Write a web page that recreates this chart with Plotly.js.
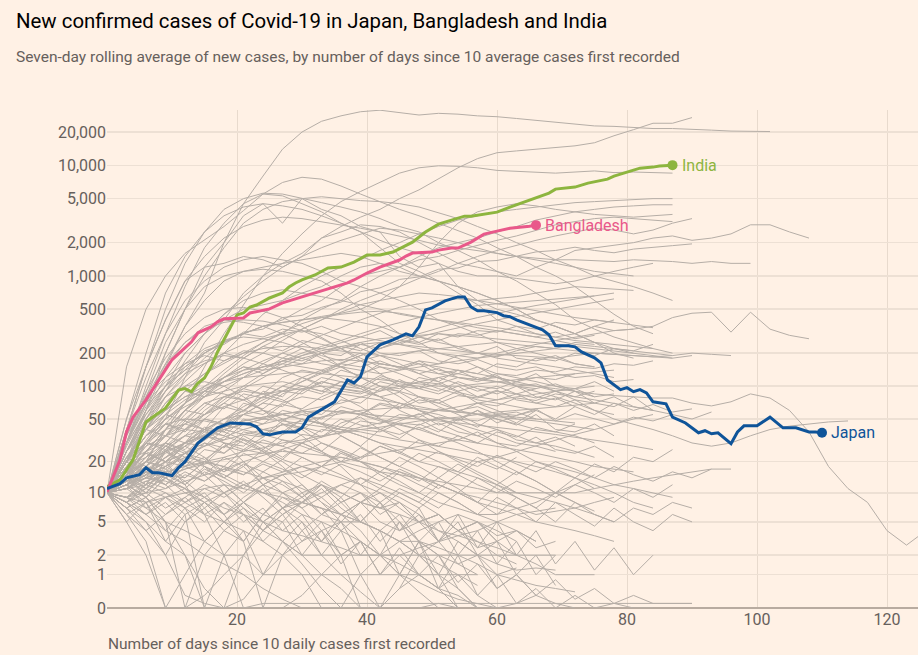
<!DOCTYPE html>
<html><head><meta charset="utf-8">
<script src="https://cdn.plot.ly/plotly-3.0.1.min.js"></script>
<style>html,body{margin:0;padding:0;background:#fff1e5;}#chart{width:918px;height:655px;}</style>
</head><body><div id="chart"></div>
<script>
// ---- highlighted countries (day since 10 avg cases, 7-day avg new cases) ----
const japanDays = [0,2,3,5,6,7,8,10,11,12,14,17,19,22,23,24,25,27,29,30,31,33,35,37,38,39,40,42,44,46,47,48,49,50,52,54,55,56,57,58,60,61,62,63,65,67,68,69,71,72,73,75,76,77,79,80,81,82,83,84,86,87,89,91,92,93,94,96,97,98,100,102,104,106,108,109,110];
const japanCases = [11,12.3,14,15,17.5,15.7,15.7,14.7,17.5,20,30,41.5,46,45,42.4,36.5,35.7,38,38,41.5,52,61,72,114,107,122,185,238,264,299,287,346,493,514,595,646,646,524,485,485,466,437,428,401,361,325,293,233,233,228,205,181,163,114,93,97,89,93,87,72,69,52,46,37.3,39,36.5,37.3,29.5,38,43.3,43.3,52,41.5,41.5,38,38,37.3];

const bangladeshDays = [0,2,3,4,6,8,10,13,14,16,17,18,20,21,22,25,27,30,32,35,37,38,40,42,45,46,47,50,51,53,54,56,58,60,62,65,66];
const bangladeshCases = [10.2,20.8,38,52,75,114,174,253,306,346,384,409,417,417,462,503,570,645,701,794,864,920,1063,1204,1393,1513,1610,1644,1713,1786,1786,2023,2388,2541,2704,2818,2881];

const indiaDays = [0,2,4,5,6,7,9,11,12,13,14,15,16,17,18,19,20,21,22,23,25,27,28,29,30,32,34,36,38,40,42,44,45,47,49,51,53,55,56,58,60,62,65,68,69,72,74,77,78,80,82,84,85,87];
const indiaCases = [11.5,13.4,20.8,32,47,52,63,92,95,89,107,119,150,205,264,340,444,462,524,546,632,701,794,864,920,1020,1180,1204,1336,1547,1547,1646,1753,2023,2494,2943,3198,3474,3474,3622,3775,4188,4849,5609,6096,6355,6902,7499,7981,8670,9430,9634,9839,10040];

// ---- other countries: readings every 3 days from day 0 ----
const otherStep = 3;
const otherCountries = [
 [10,30,70,160,350,700,2000,4500,8000,14000,20000,25000,28000,30500,31500,30000,28500,29500,29000,28000,27500,26500,25500,24500,23500,22700,22500,22000,21500,21500,21000,20800,20400,20400,20200],
 [10,15,30,50,120,250,400,700,1000,1300,1600,2200,2800,3400,4000,5000,6000,7500,9500,11500,13000,13500,14000,14500,15000,16000,18500,21000,24000,24000,27000],
 [10,12,20,40,70,150,300,550,1000,1600,2400,3500,4700,5800,7000,8500,9500,9900,9800,9500,9000,8800,8600,8500,8700,8900,8600,8700,8600,8500],
 [10,150,500,1000,1600,2100,2800,3900,5500,7000,7800,7500,6500,5500,4700,4000,3500,3000,2600,2200,1800,1500,1200,1000,800,600,450,350,300],
 [10,40,150,500,1300,2500,4000,5000,5600,5500,5000,4600,4200,3800,3300,2800,2500,2000,1700,1400,1100,900,700,550,400,330,280,250,220,200],
 [10,30,80,200,500,1000,1800,3000,4000,4700,5000,5200,5000,4800,4700,4500,4200,3700,3300,2800,2400,2000,1700,1400,1200,1000,900,800,700,600],
 [10,25,60,200,500,1200,2000,3500,4500,3000,5000,4000,3500,2800,2500,1500,1200,1300,800,600,500,450,400,350,300,350,400],
 [10,30,100,300,800,1800,3000,4500,5500,5300,4500,3800,3000,2500,1800,1300,1100,900,700,550,400,350,300,280,300,350,320,330,350,420,460,470,310,470,330,290,270],
 [10,50,200,700,1500,2500,3500,4200,4500,4300,4000,3500,3000,2500,2100,1800,1600,1300,1100,1000,1000,950,900,850,900,1000,1100,1200,1300],
 [10,40,150,400,900,1200,1300,1500,1400,1200,1500,2200,2500,2900,2800,2500,2000,1600,1300,1200,1100,1000,1200,1400,1700,1800,1900,2000,2200,2300,2100,2200,2400,2900,2900,2500,2200],
 [10,12,20,40,70,120,200,300,450,600,800,1000,1200,1400,1700,2000,2400,2800,3200,3500,3800,4000,4200,4400,4600,4700,4800,4900,5000,5000],
 [10,20,40,80,130,200,250,300,350,380,400,430,460,500,600,800,1200,2000,3000,3800,4200,4500,4300,4000,3800,3600,3500,3400,3500,3600],
 [10,15,25,40,60,90,120,160,200,260,330,400,500,600,700,800,950,1100,1300,1500,1700,1900,2100,2300,2500,2700,2600,2400,2600,3000,3300],
 [10,20,40,70,100,130,160,200,250,300,400,500,600,800,1000,1200,1500,1800,2000,2200,2500,2800,3200,3500,3800,4000,4200,4300,4400,4400],
 [10,25,50,90,150,200,250,300,350,400,500,600,800,1000,1100,1200,1400,1500,1700,1900,2100,2300,2600,2900,3100,3300,3400,3300,3200,3100],
 [10,30,65,100,140,210,240,310,330,420,440,520,580,720,780,930,980,1150,1180,1350,1380,1520,1650,1700,1820,1700,1620,1750,1800,1880,1950],
 [10,50,150,400,900,1500,2200,2800,3200,3400,3300,3100,2900,2700,2500,2300,2100,1900,1800,1700,1600,1500,1450,1400,1400,1380,1350,1400,1380,1350,1300,1350,1300,1300],
 [10,40,120,300,600,900,1200,1400,1500,1400,1300,1100,900,800,700,600,500,400,350,300,250,220,200,180,160,150],
 [10,20,60,150,350,600,900,1100,1200,1300,1400,1500,1600,1500,1300,1100,1000,900,800,700,600,500,400,350,300,250,200,180],
 [10,30,90,250,500,800,1000,1100,1150,1100,1000,900,700,500,400,300,250,200,180,150,130,120,110,100,90,80],
 [10,20,50,100,200,300,400,500,550,600,700,800,1000,1200,1300,1200,1000,900,800,700,600,500,400,350,300,250,220,200],
 [10,20,45,90,170,300,450,650,900,1200,1500,1800,2100,2400,2700,2600,2400,2200,2000,1800,1600,1500,1400,1300,1200,1100,1050,1000],
 [10,20,45,80,120,180,250,300,350,380,400,420,400,380,350,300,280,250,230,200,180,170,160,150,140,130,120],
 [10,15,25,40,60,90,130,180,230,280,330,400,470,550,600,650,700,680,650,600,620,650,700,750,800,780,760,740],
 [10,30,70,150,250,350,400,380,350,300,250,200,150,120,100,80,60,50,45,40,35,30,28,25],
 [10,18,30,50,70,90,110,130,150,170,200,230,260,300,340,380,420,460,500,540,560,580,600,620,640,660,700],
 [10,25,55,100,160,220,260,280,270,250,220,180,150,120,100,90,80,70,60,55,50,45,40,38,35,30],
 [10,12,18,28,40,55,75,100,130,160,190,220,250,280,260,240,220,200,190,180,200,220,240,260,280,300,320,330],
 [10,22,40,70,110,160,200,240,270,300,320,300,260,220,190,160,130,110,90,70,60,50],
 [10,14,20,30,45,65,90,120,160,200,240,290,340,400,460,520,560,600,620,600,560,520,480,450,420,400,380,360,340],
 [10,30,80,160,250,330,380,400,390,360,320,270,220,180,150,130,110,95,85,75,70,65,60],
 [10,16,28,45,70,100,140,190,250,310,370,420,450,470,480,460,430,400,370,340,320,300,280,260,240,230,220,210,200,190],
 [10,12,15,20,28,38,50,65,80,100,120,140,165,190,220,250,280,310,340,370,400,430,460,500,540,580,620],
 [10,20,35,50,65,80,90,100,105,110,100,90,85,80,75,70,65,60,58,55,52,50,48,45,42,40],
 [10,25,60,120,200,300,450,600,700,750,700,650,600,550,500,450,420,400,380,360,340,320,300,280,260,250,240,230,220],
 [10,14,22,35,55,80,110,140,170,200,180,160,150,140,130,140,150,160,170,180,190,200,210,220],
 [10,35,90,180,300,420,500,520,480,420,350,280,220,170,130,100,80,65,55,45,40,35,30,28,25,22],
 [10,11,14,18,24,32,42,55,70,90,110,135,160,190,220,260,300,340,380,420,460,500,540,580,620,660],
 [10,18,32,55,90,130,170,200,220,230,230,220,210,200,190,175,160,150,140,130,120,110,100,90,80,75,70,65,60,55],
 [10,20,40,60,80,100,120,140,150,160,150,140,120,100,80,60,50,40,35,30],
 [10,15,25,40,60,85,110,130,150,170,190,210,230,250,270,280,290,300,290,280,270,260,250,240,230,220,210,200,190,180],
 [10,13,18,25,35,50,70,95,120,150,180,200,220,240,250,240,230,220,210,200,195,190,185,180,190,200,195,190,185,180,190],
 [10,28,60,100,140,170,190,180,160,140,120,100,80,65,50,40,32,25,20,16,13,10],
 [10,20,35,55,75,95,110,120,125,130,135,130,125,120,115,110,105,100,100,105,110,115,120,125,130,135,140],
 [10,12,16,22,30,40,50,60,75,90,110,130,150,170,190,200,210,220,230,240,250,240,230,220,210,200,195,190,185,190,200,195,190],
 [10,15,25,40,60,80,100,120,140,150,160,170,175,170,160,150,140,130,120,115,110,105,100,95,90,85,82,80,78,78,70,66,72,85,78,60,38,18,11,8,4,2.7,4],
 [10,14,20,25,30,35,40,45,50,55,60,65,70,80,90,100,110,120,130,120,110,100,90,80,70,60,50,45,40,35,30,28,30,35,40,43,45,47,48],
 [10,14,25,30,48,40,65,58,90,80,120,105,140,125,160,150,130,145,120,110,125,100,95,105,90],
 [10,18,22,35,30,50,45,70,62,85,100,90,110,95,80,88,70,75,60,65,55,58,50],
 [10,12,20,18,30,42,38,55,70,65,90,110,100,130,150,140,170,160,190,200,185,210,230,220,250,240],
 [10,22,40,35,60,55,80,95,85,120,140,130,160,150,170,145,160,130,140,115,120,100,105,90,95,80,85],
 [10,15,12,25,20,35,30,28,40,38,50,45,60,55,70,65,80,75,90,100,95,110,120,115,130],
 [10,30,55,90,130,160,200,180,230,210,260,240,220,250,200,190,210,170,160,175,150,140,150,130,120,125,110,115],
 [10,16,20,28,24,35,32,45,40,36,50,46,42,55,48,44,40,46,38,35,40,32,30,34,28],
 [10,25,45,60,90,80,120,150,140,180,170,200,230,210,250,240,280,260,300,290,320,300,280,310,270,290],
 [10,13,18,16,24,30,27,38,35,48,60,55,75,70,95,90,120,110,140,130,160,150,180,170,200,190,220,210,240],
 [10,35,70,110,150,200,260,300,280,330,310,350,300,280,320,260,240,270,220,200,230,180,170,190,160,150],
 [10,11,16,14,22,20,30,26,34,45,40,52,60,55,68,62,75,70,82,78,90,85,95],
 [10,20,30,45,38,55,70,60,80,72,95,85,110,100,90,115,95,85,100,80,75,85,70,65,75,60,55],
 [10,14,20,26,35,32,45,55,50,68,62,80,95,88,110,100,95,120,105,90,100,85,78,90,75,70,80,65,60],
 [10,25,40,55,48,70,62,85,78,100,92,120,110,100,125,110,95,105,88,80,92,75,70,78,65],
 [10,9,12,15,14,20,18,26,24,32,30,40,38,48,45,55,52,62,58,70,66,78,74,85,80,90],
 [10,18,30,26,40,50,45,60,55,70,80,75,90,85,100,95,110,105,120,115,130,125,140,135,150,145,160,155,170],
 [10,40,80,120,160,190,170,210,200,180,220,190,170,200,160,150,170,140,130,150,120,110,130,100,95,110,90],
 [10,12,15,20,18,26,24,32,30,28,36,34,42,40,38,46,44,52,50,48,56,54,60],
 [10,20,35,50,70,90,120,150,130,170,160,200,190,240,220,260,250,300,280,320,310,350,330,380,360,400,380],
 [10,15,30,45,40,60,80,75,100,90,85,110,100,95,120,105,100,90,110,95,85,100,80,75,90,70,65,80,60],
 [10,22,18,30,26,40,35,50,45,60,55,50,65,58,52,70,60,55,48,60,50,44,55,40,38,45,35],
 [10,16,24,20,30,28,40,36,34,45,42,38,50,44,40,36,42,35,32,38,30,28,34,26,24,28,22],
 [10,8,12,15,20,18,15,12,10,8,6,5,4,3,2,1.5,1,0.5,0.3,0,0,0.1,0.3,0.1,0],
 [10,14,20,28,35,40,38,32,25,18,12,8,5,3,2,1,0.7,0.4,0.2,0.1,0],
 [10,6,3,0,1,3,5,8,12,15,18,20,22,20,18,15,12,10,8,6,5,4,3],
 [10,12,16,22,30,40,50,55,60,55,50,45,40,35,30,25,20,18,16,14,12,10,9,8,7,6,5],
 [10,9,11,14,17,20,22,25,27,30,32,35,37,40,42,45,48,50,52,55,58,60,62,65,67,70],
 [10,20,30,40,45,40,30,20,12,7,4,2,1,0.4,0,0,0,0.1,0],
 [10,5,2,0,0,0.3,1,2,4,6,8,10,12,14,12,10,8,6,4,3,2,1.5],
 [10,15,25,35,50,70,80,90,85,75,60,45,35,28,22,18,15,12,10,9,8,7,6,6.5,7,8,9],
 [10,11,13,15,17,19,21,23,24,25,24,23,22,20,18,16,14,12,10,8,7,6,5,4.5,4,3.5,3],
 [10,13,17,22,28,35,42,48,52,55,50,45,40,35,30,28,26,24,22,20,22,25,28,32,36,40,45,50,55],
 [10,7,5,3,2,0.5,0,0.2,1,2,3,4,5,5,4,3,2,1,0.5,0],
 [10,18,28,35,40,38,35,30,25,20,15,12,10,8,7,6,5,4,3.5,3,2.5,2,1.5,1,1,1],
 [10,12,14,16,18,20,18,16,14,15,16,18,20,22,24,26,28,30,32,30,28,26,24,22,20,18,17,16],
 [10,9,7,5,4,3,2,2,1,1,1,1,1,1,1,1,1,1,1,1],
 [10,15,22,30,25,18,12,8,5,3,2,2,2,2,2,2,2,2,2,2,2,2,2,2],
 [10,8,5,2,0.3,0.1,0,0,0.1,0.1,0.1,0.1,0.1,0.1,0.1,0.1,0.1,0.1,0.1,0.1,0.1,0.1,0.1,0.1,0.1,0.1,0.1,0.1,0.1,0.1,0.1],
 [10,20,40,60,80,90,85,75,60,50,40,30,25,20,15,12,10,8,7,6,6,7,8,10,12,15],
 [10,12,15,18,22,28,34,40,45,50,55,60,58,55,50,45,40,35,30,25,20,16,13,10,8,6.5],
 [10,6,4,6,9,12,10,7,5,3,1.5,0.5,0,0,0],
 [10,14,18,14,10,8,10,12,14,16,18,16,14,12,10,8,6,4,3,2,1.5,1.2,1.3,1.2],
 [10,20,35,45,50,48,44,40,36,32,28,24,20,18,16,15,14,13,12,11,10,10,10,10,10,11,12,13,14,15,16,17,17],
 [10,11,12,10,8,6,5,4,3,2,1,0,0,1,2,3,4,5,6,5,4,3],
 [10,25,50,80,100,110,100,80,60,45,35,25,18,12,8,5,3,2,1.5,1],
 [10,9,8,9,10,11,12,11,10,9,8,7,6,5,4,3,3,2.5,2,1.5,1,0.8,0.6,0.5,0.4],
 [10,12,9,5,2,0,0,2,5,7,8,7,6,5,4,3,2,1.5,1,0.6],
 [10,16,25,35,45,55,65,75,85,90,95,100,95,90,80,70,60,50,42,35,30,25,20,18,16,14,12,11,10,9],
 [10,13,16,20,24,28,32,36,40,44,48,52,56,60,62,64,62,60,58,56,54,52,50,48,46],
 [10,8,6,4,3,2,1.5,1,0.5,0.2,0,0,0,0],
 [10,22,30,28,22,15,10,6,4,3,2,1,0.5,0,0,0.5,1,0.5,0],
 [10,15,20,25,30,35,40,45,50,48,45,42,40,38,35,32,30,28,26,24,22,20,18,16,14,12,10,8,7],
 [10,9,10,11,13,15,17,20,23,26,30,34,38,42,46,50,55,60,65,70,75,80,85,90,95,100],
 [10,12,14,13,11,9,7,6,5,4,3.5,3,2.5,2,2,2,2.5,3,3.5,4,5,6,6.5,7],
 [10,20,25,20,12,6,2,0,0,0,0.3,1,2,3,2,1,0.4,0],
 [10,14,18,24,30,36,42,48,52,56,58,60,58,56,54,52,50,48,46,44,42,40,38,36,34,32,30,28,26],
 [10,8,11,9,6,8,5,7,4,6,3,5,2,3,1,2,1,0.5,1,0.3,0],
 [10,12,7,9,11,8,6,9,12,10,7,9,6,8,10,7,5,6,4,5,3],
 [10,6,8,4,7,3,5,8,6,10,8,12,9,14,11,16,13,18,15,20,17,22],
 [10,14,10,16,12,18,14,11,16,13,9,12,8,10,6,8,5,6,4,5,3,4,2.5,3],
 [10,7,9,5,0,2,4,3,6,5,8,7,4,6,3,5,2,3,1.5,2,1,1.3],
 [10,15,11,18,14,20,16,24,20,26,22,18,24,20,16,22,18,14,19,15,12,16,13,10,14,11],
 [10,9,13,11,15,13,17,15,19,16,22,18,25,21,28,24,32,28,35,30,38,34,42,38,45],
 [10,11,8,10,7,9,6,8,5,7,9,6,8,5,4,6,3,5,2,4,1.5,3,1,2],
 [10,13,16,12,8,10,6,3,0,2,4,6,5,8,7,10,8,12,10,14,11,9],
 [10,8,6,9,7,5,8,6,4,7,5,3,6,4,2,5,3,1,3,2,0.5,1,0.3],
 [10,20,15,25,18,22,14,18,12,15,10,12,8,10,7,8,5,6,4,5,3.5,4,3],
 [10,12,9,14,11,7,10,13,9,6,8,11,7,5,8,4,6,3,5,2,3,1,2,0.6],
 [10,5,8,3,6,0,2,4,1,3,5,2,4,1,0,0.5,2,1,0],
 [10,11,14,12,16,13,18,15,20,17,14,18,15,12,16,13,10,14,11,8,12,9,7,10,8],
 [10,18,24,20,28,22,16,20,14,10,12,8,6,8,5,4,5,3,4,2.5,3,2],
 [10,7,4,2,5,8,5,3,6,9,7,4,2,0,0,1,3,2,0.5,0],
 [10,12,9,14,11,16,13,10,14,12,9,13,10,8,11,9,7,10,8,6,9,7,5,8,6,4.5,7,5,4,6,5],
 [10,15,20,17,24,21,28,25,32,28,24,30,26,22,28,24,20,25,21,18,23,19,16,20,17,14,18,15,13,16,14,17],
 [10,7,9,6,8,11,9,12,10,13,11,9,12,10,8,11,9,7,10,8,6,9,7,5,8,6,5,7,6,8,7],
 [10,20,14,26,19,30,24,35,28,22,30,25,20,27,22,18,24,20,16,22,18,15,20,17,14,19,16,22,20,26],
 [10,9,6,8,5,7,4,6,3,5,2,4,1.5,3,1,2.5,1,2,0.7,1.5,0.5,1,0.3,0.8,0.2,0.5,0.1,0.3,0.1,0.1,0.1],
 [10,14,11,17,13,9,12,8,11,7,10,6,9,5,8,4,7,3,6,2.5,5,2,4,1.5,3,1.2,2.5,1,2],
 [10,11,15,12,18,15,22,18,26,21,30,25,35,28,40,33,45,38,50,42,55,46,60,50,65,55,70,60,68,58,62],
 [10,16,12,20,24,19,28,33,26,36,42,34,46,52,40,48,56,44,50,60,46,54,62,48,56,50,45,52,48,55,50,58],
 [10,8,10,7,9,6,8,5,7,4,6,3,5,2,4,1,3,0.5,2,0.3,1,0.1,0.5,0,0.3,0,0.1,0,0],
 [10,13,10,15,12,17,14,19,16,21,18,15,19,16,13,17,14,11,15,12,10,13,11,9,12,10,8,11,9,12]
];

const yTickValues = [0,1,2,5,10,20,50,100,200,500,1000,2000,5000,10000,20000];
const xTickValues = [20,40,60,80,100,120];

const tf = v => Math.log10(v + 1);
const traces = [];
otherCountries.forEach(vals => {
  traces.push({x: vals.map((_, i) => i * otherStep), y: vals.map(tf), mode: 'lines',
    line: {color: '#b6aea7', width: 1}, hoverinfo: 'skip'});
});
const highlights = [
  {name: 'India', days: indiaDays, cases: indiaCases, color: '#8db53f'},
  {name: 'Bangladesh', days: bangladeshDays, cases: bangladeshCases, color: '#e9588a'},
  {name: 'Japan', days: japanDays, cases: japanCases, color: '#0f5499'}
];
const annotations = [];
highlights.forEach(h => {
  traces.push({x: h.days, y: h.cases.map(tf), mode: 'lines', line: {color: h.color, width: 3}, hoverinfo: 'skip'});
  const lx = h.days[h.days.length - 1], ly = tf(h.cases[h.cases.length - 1]);
  traces.push({x: [lx], y: [ly], mode: 'markers', marker: {color: h.color, size: 10}, hoverinfo: 'skip'});
  annotations.push({x: lx, y: ly, xref: 'x', yref: 'y', text: h.name, showarrow: false, xanchor: 'left', yanchor: 'middle', xshift: 7,
    font: {size: 16, color: h.color}});
});
const px = X => (X - 107) / 811, py = Y => (608 - Y) / 498;
annotations.push({xref: 'paper', yref: 'paper', x: px(14), y: py(21), xanchor: 'left', yanchor: 'middle', showarrow: false,
  text: 'New confirmed cases of Covid-19 in Japan, Bangladesh and India', font: {size: 20.4, color: '#000000'}});
annotations.push({xref: 'paper', yref: 'paper', x: px(14), y: py(57), xanchor: 'left', yanchor: 'middle', showarrow: false,
  text: 'Seven-day rolling average of new cases, by number of days since 10 average cases first recorded', font: {size: 15.5, color: '#66605c'}});
annotations.push({xref: 'paper', yref: 'paper', x: px(106), y: py(644), xanchor: 'left', yanchor: 'middle', showarrow: false,
  text: 'Number of days since 10 daily cases first recorded', font: {size: 15.5, color: '#66605c'}});

const layout = {
  width: 918, height: 655,
  paper_bgcolor: '#fff1e5', plot_bgcolor: '#fff1e5',
  margin: {l: 107, r: 0, t: 110, b: 47},
  showlegend: false, hovermode: false,
  font: {family: 'Roboto, sans-serif', color: '#66605c', size: 16},
  xaxis: {range: [0, 124.77], tickvals: xTickValues, ticktext: xTickValues.map(String), showgrid: true, gridcolor: '#e8dacd', gridwidth: 1,
    zeroline: false, showline: false, ticks: '', tickfont: {size: 16, color: '#66605c'}, fixedrange: true},
  yaxis: {range: [0, 4.5], tickvals: yTickValues.map(tf), ticktext: yTickValues.map(v => v.toLocaleString('en-US')),
    showgrid: true, gridcolor: '#ede0d4', gridwidth: 1.5, zeroline: true, zerolinecolor: '#b8aba0', zerolinewidth: 2.5,
    ticks: '', tickfont: {size: 16, color: '#66605c'}, fixedrange: true},
  annotations: annotations
};
Plotly.newPlot('chart', traces, layout, {displayModeBar: false, staticPlot: true});
</script></body></html>
